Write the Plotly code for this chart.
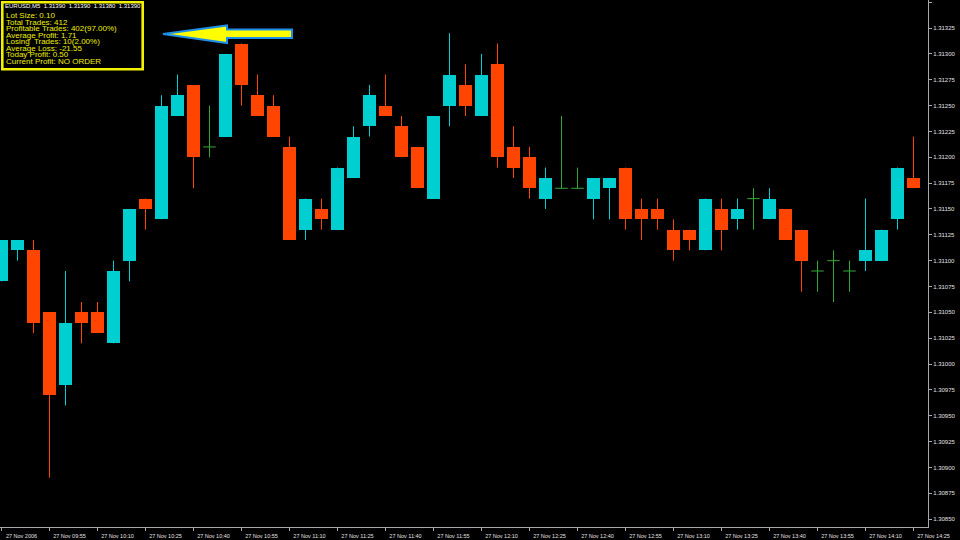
import plotly.graph_objects as go

# ---- data (EURUSD M5, 27 Nov 2006, 09:40 .. 14:25) ----
opens = [1.3108, 1.3111, 1.3111, 1.3105, 1.3098, 1.3105, 1.3105, 1.3102, 1.3110, 1.3116,
         1.3114, 1.3124, 1.3127, 1.3121, 1.3122, 1.3131, 1.3126, 1.3125, 1.3121, 1.3113,
         1.3115, 1.3113, 1.3118, 1.3123, 1.3125, 1.3123, 1.3121, 1.3116, 1.3125, 1.3127,
         1.3124, 1.3129, 1.3121, 1.3120, 1.3116, 1.3117, 1.3117, 1.3116, 1.3117, 1.3119,
         1.3115, 1.3115, 1.3113, 1.3113, 1.3111, 1.3115, 1.3114, 1.3116, 1.3114, 1.3115,
         1.3113, 1.3109, 1.3110, 1.3109, 1.3110, 1.3110, 1.3114, 1.3118]
highs = [1.3112, 1.3112, 1.3112, 1.3105, 1.3109, 1.3106, 1.3106, 1.3110, 1.3115, 1.3116,
         1.3126, 1.3128, 1.3127, 1.3125, 1.3130, 1.3131, 1.3128, 1.3126, 1.3122, 1.3116,
         1.3116, 1.3119, 1.3123, 1.3127, 1.3128, 1.3124, 1.3121, 1.3124, 1.3132, 1.3129,
         1.3130, 1.3131, 1.3123, 1.3121, 1.3119, 1.3124, 1.3119, 1.3118, 1.3118, 1.3119,
         1.3116, 1.3116, 1.3114, 1.3113, 1.3116, 1.3116, 1.3116, 1.3117, 1.3117, 1.3115,
         1.3113, 1.3110, 1.3111, 1.3110, 1.3116, 1.3113, 1.3119, 1.3122]
lows = [1.3108, 1.3110, 1.3103, 1.3089, 1.3096, 1.3102, 1.3103, 1.3102, 1.3108, 1.3113,
        1.3114, 1.3124, 1.3117, 1.3120, 1.3122, 1.3125, 1.3124, 1.3122, 1.3112, 1.3112,
        1.3113, 1.3113, 1.3118, 1.3122, 1.3124, 1.3120, 1.3117, 1.3116, 1.3123, 1.3124,
        1.3124, 1.3119, 1.3118, 1.3116, 1.3115, 1.3117, 1.3117, 1.3114, 1.3114, 1.3113,
        1.3112, 1.3113, 1.3110, 1.3111, 1.3111, 1.3111, 1.3113, 1.3113, 1.3114, 1.3112,
        1.3107, 1.3107, 1.3106, 1.3107, 1.3109, 1.3110, 1.3113, 1.3117]
closes = [1.3112, 1.3112, 1.3104, 1.3097, 1.3104, 1.3104, 1.3103, 1.3109, 1.3115, 1.3115,
          1.3125, 1.3126, 1.3120, 1.3121, 1.3130, 1.3127, 1.3124, 1.3122, 1.3112, 1.3116,
          1.3114, 1.3119, 1.3122, 1.3126, 1.3124, 1.3120, 1.3117, 1.3124, 1.3128, 1.3125,
          1.3128, 1.3120, 1.3119, 1.3117, 1.3118, 1.3117, 1.3117, 1.3118, 1.3118, 1.3114,
          1.3114, 1.3114, 1.3111, 1.3112, 1.3116, 1.3113, 1.3115, 1.3116, 1.3116, 1.3112,
          1.3110, 1.3109, 1.3110, 1.3109, 1.3111, 1.3113, 1.3119, 1.3117]

tick_labels = ["27 Nov 2006", "27 Nov 09:55", "27 Nov 10:10", "27 Nov 10:25", "27 Nov 10:40",
               "27 Nov 10:55", "27 Nov 11:10", "27 Nov 11:25", "27 Nov 11:40", "27 Nov 11:55",
               "27 Nov 12:10", "27 Nov 12:25", "27 Nov 12:40", "27 Nov 12:55", "27 Nov 13:10",
               "27 Nov 13:25", "27 Nov 13:40", "27 Nov 13:55", "27 Nov 14:10", "27 Nov 14:25"]

header_text = "EURUSD,M5  1.31390  1.31390  1.31380  1.31390"
info_lines = ["Lot Size: 0.10", "Total Trades: 412", "Profitable Trades: 402(97.00%)",
              "Average Profit: 1.71", "Losing  Trades: 10(2.00%)", "Average Loss: -21.55",
              "Today Profit: 0.50", "Current Profit: NO ORDER"]

BULL = "#00CED1"
BEAR = "#FF4500"
DOJI = "#32A832"
AXIS = "#a8a8a8"
TXT = "#e0e0e0"
BODY_W = 0.78

n = len(opens)
idx = list(range(n))

fig = go.Figure()

def add_group(sel, color):
    xs = [i for i in idx if sel(i)]
    fig.add_trace(go.Bar(
        x=xs,
        y=[abs(closes[i] - opens[i]) for i in xs],
        base=[min(opens[i], closes[i]) for i in xs],
        width=BODY_W, marker=dict(color=color, line=dict(width=0)),
        showlegend=False, hoverinfo="skip"))
    wx, wy = [], []
    for i in xs:
        wx += [i, i, None]
        wy += [lows[i], highs[i], None]
    fig.add_trace(go.Scatter(x=wx, y=wy, mode="lines",
                             line=dict(color=color, width=1),
                             showlegend=False, hoverinfo="skip"))

add_group(lambda i: closes[i] > opens[i], BULL)
add_group(lambda i: closes[i] < opens[i], BEAR)

# doji crosses
dx, dy = [], []
for i in idx:
    if closes[i] == opens[i]:
        dx += [i, i, None, i - BODY_W / 2, i + BODY_W / 2, None]
        dy += [lows[i], highs[i], None, opens[i], opens[i], None]
fig.add_trace(go.Scatter(x=dx, y=dy, mode="lines", line=dict(color=DOJI, width=1),
                         showlegend=False, hoverinfo="skip"))

PW, PH = 928.0, 527.0
def px(x):
    return x / PW
def py(y):
    return 1 - y / PH

shapes = []
# info box border
shapes.append(dict(type="rect", xref="paper", yref="paper",
                   x0=px(2.3), x1=px(142.7), y0=py(69.3), y1=py(2.3),
                   line=dict(color="#F2F200", width=2.6), fillcolor="rgba(0,0,0,0)"))
# arrow
pts = [(163, 34), (227, 25.5), (227, 29.5), (292, 29.5), (292, 38), (227, 38), (227, 43)]
path = "M " + " L ".join(f"{px(a):.5f},{py(b):.5f}" for a, b in pts) + " Z"
shapes.append(dict(type="path", xref="paper", yref="paper", path=path,
                   fillcolor="#FFFF00", line=dict(color="#1E8FE8", width=2)))

annotations = [dict(xref="paper", yref="paper", x=px(3), y=py(6.2), text=header_text,
                    showarrow=False, xanchor="left", yanchor="middle",
                    font=dict(family="Liberation Sans", size=6, color="#ffffff"))]
for k, line in enumerate(info_lines):
    annotations.append(dict(xref="paper", yref="paper", x=px(4), y=py(15.9 + 6.45 * k),
                            text=line, showarrow=False, xanchor="left", yanchor="middle",
                            font=dict(family="Liberation Sans", size=8, color="#EEEE00")))

fig.update_layout(
    width=960, height=540,
    margin=dict(l=0, r=32, t=0, b=13, pad=0),
    paper_bgcolor="#000000", plot_bgcolor="#000000",
    barmode="overlay", bargap=0,
    showlegend=False,
    shapes=shapes, annotations=annotations,
    xaxis=dict(range=[-0.09375, 57.906], showgrid=False, zeroline=False,
               showline=True, mirror=True, linecolor=AXIS, linewidth=1,
               ticks="outside", ticklen=3, tickcolor=AXIS,
               tickvals=idx[::3], ticktext=tick_labels,
               tickfont=dict(family="Liberation Sans", size=5.5, color=TXT),
               ticklabelshift=20, tickangle=0),
    yaxis=dict(range=[1.308424, 1.313521], side="right", showgrid=False, zeroline=False,
               showline=True, mirror=True, linecolor=AXIS, linewidth=1,
               ticks="outside", ticklen=3, tickcolor=AXIS,
               tick0=1.3085, dtick=0.00025, tickformat=".5f",
               tickfont=dict(family="Liberation Sans", size=6, color=TXT)),
)

fig.write_html("out.html", config={"displayModeBar": False},
               post_script="document.body.style.margin='0';document.body.style.background='#000';")
